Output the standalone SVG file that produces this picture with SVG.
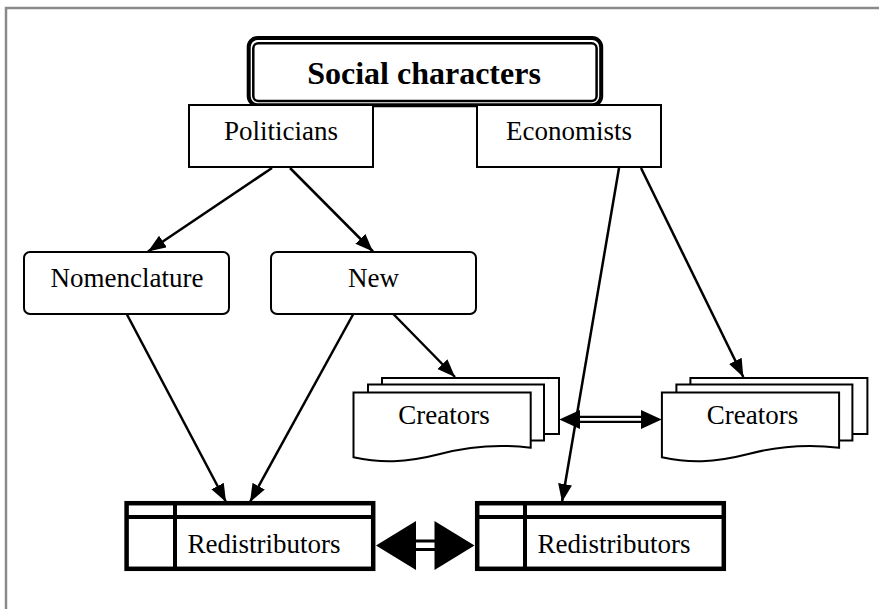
<svg xmlns="http://www.w3.org/2000/svg" width="879" height="609" viewBox="0 0 879 609">
<style>
text{font-family:"Liberation Serif","Times New Roman",serif;font-size:27px;fill:#000;text-anchor:middle}
.title{font-weight:bold;font-size:32px}
.box{fill:#fff;stroke:#000;stroke-width:2}
.page{fill:#fff;stroke:#000;stroke-width:2;stroke-linejoin:miter}
.store{fill:#fff;stroke:#000;stroke-width:4.5}
.sline{stroke:#000;stroke-width:4}
.conn{stroke:#000;stroke-width:2.5;fill:none;marker-end:url(#ah)}
.dbl{stroke:#000;stroke-width:2.2;fill:none}
</style>
<defs>
<marker id="ah" markerUnits="userSpaceOnUse" markerWidth="20" markerHeight="16" refX="18" refY="7" orient="auto">
<path d="M0,0 L18,7 L0,14 z" fill="#000"/>
</marker>
</defs>
<rect x="0" y="0" width="879" height="609" fill="#fff"/>
<rect id="frame" x="6" y="8" width="900" height="700" fill="none" stroke="#8a8a8a" stroke-width="2.5"/>

<g id="social">
<rect x="248.7" y="38" width="352.5" height="67.3" rx="9" fill="#fff" stroke="#000" stroke-width="4"/>
<rect x="253.3" y="43.3" width="343.3" height="57.7" rx="5" fill="none" stroke="#000" stroke-width="2.5"/>
<text class="title" x="424" y="84">Social characters</text>
</g>

<g id="politicians">
<rect class="box" x="189" y="105" width="184" height="62"/>
<text x="281" y="140">Politicians</text>
</g>

<g id="economists">
<rect class="box" x="477" y="105" width="184" height="62"/>
<text x="569" y="140">Economists</text>
</g>

<g id="nomenclature">
<rect class="box" x="24" y="252" width="205" height="62" rx="6"/>
<text x="127" y="287">Nomenclature</text>
</g>

<g id="new">
<rect class="box" x="271" y="252" width="205" height="62" rx="6"/>
<text x="373.5" y="287">New</text>
</g>

<g id="creators1">
<rect class="page" x="382" y="378" width="177" height="56"/>
<rect class="page" x="368" y="384.5" width="176" height="56"/>
<path class="page" d="M353.5,392.5 H530.7 V447.7 C500,444 470,446 440,454 C405,463 380,463 353.5,457.3 Z"/>
<text x="444" y="424">Creators</text>
</g>

<g id="creators2">
<rect class="page" x="690.4" y="378" width="177" height="56"/>
<rect class="page" x="676.4" y="384.5" width="176" height="56"/>
<path class="page" d="M661.9,392.5 H839.1 V447.7 C808.4,444 778.4,446 748.4,454 C713.4,463 688.4,463 661.9,457.3 Z"/>
<text x="752.5" y="424">Creators</text>
</g>

<g id="redistributors1">
<rect class="store" x="126.6" y="503.2" width="246.6" height="65.6"/>
<line class="sline" x1="126.6" y1="517" x2="373.2" y2="517"/>
<line class="sline" x1="175" y1="503.2" x2="175" y2="568.8"/>
<text x="264" y="553">Redistributors</text>
</g>

<g id="redistributors2">
<rect class="store" x="477.2" y="503.2" width="246.6" height="65.6"/>
<line class="sline" x1="477.2" y1="517" x2="723.8" y2="517"/>
<line class="sline" x1="525" y1="503.2" x2="525" y2="568.8"/>
<text x="614" y="553">Redistributors</text>
</g>

<g id="connectors">
<line class="conn" x1="272" y1="168" x2="148" y2="251.5"/>
<line class="conn" x1="290" y1="168" x2="373" y2="251.5"/>
<line class="conn" x1="393.3" y1="314" x2="455" y2="377"/>
<line class="conn" x1="641" y1="168" x2="743.3" y2="377"/>
<line class="conn" x1="126.7" y1="314" x2="226" y2="502"/>
<line class="conn" x1="353.3" y1="314" x2="250" y2="502"/>
<line class="conn" x1="619" y1="168" x2="562" y2="502"/>
<line class="dbl" x1="578" y1="416.8" x2="643" y2="416.8"/>
<line class="dbl" x1="578" y1="421.8" x2="643" y2="421.8"/>
<polygon points="559.3,419.5 580,410 580,429" fill="#000"/>
<polygon points="661.7,419.5 641,410 641,429" fill="#000"/>
<line x1="414" y1="541" x2="436" y2="541" stroke="#000" stroke-width="3"/>
<line x1="414" y1="549.5" x2="436" y2="549.5" stroke="#000" stroke-width="3"/>
<polygon points="376,545.5 416,521 416,570" fill="#000"/>
<polygon points="474.5,545.5 434.5,521 434.5,570" fill="#000"/>
</g>
</svg>
